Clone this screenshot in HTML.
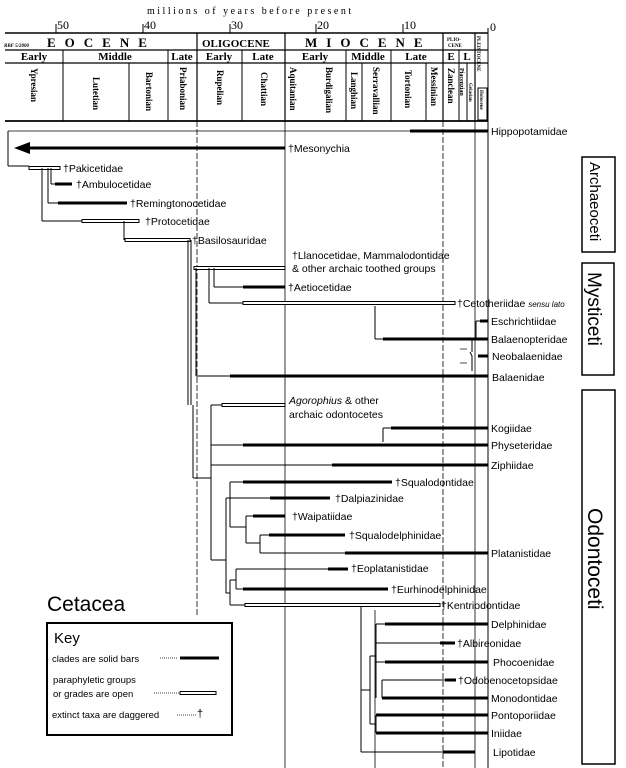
<!DOCTYPE html>
<html><head><meta charset="utf-8"><style>
html,body{margin:0;padding:0;background:#fff;}
svg{display:block;font-family:"Liberation Sans",Arial,sans-serif;}
.l{font-size:10.5px;fill:#000;}
.s{font-family:"Liberation Serif",serif;font-weight:bold;font-size:9px;}
</style></head><body>
<svg width="626" height="768" viewBox="0 0 626 768" xmlns="http://www.w3.org/2000/svg">
<g stroke="#000" fill="none">
<line x1="5" y1="33" x2="488" y2="33" stroke-width="1.5"/>
<line x1="5" y1="50" x2="488" y2="50" stroke-width="1.2"/>
<line x1="5" y1="63" x2="488" y2="63" stroke-width="1.2"/>
<line x1="5" y1="121" x2="488" y2="121" stroke-width="1.8"/>
<line x1="488" y1="28" x2="488" y2="768" stroke-width="1"/>
<line x1="56" y1="24" x2="56" y2="33"/><line x1="143" y1="24" x2="143" y2="33"/><line x1="230" y1="24" x2="230" y2="33"/><line x1="316" y1="24" x2="316" y2="33"/><line x1="403" y1="24" x2="403" y2="33"/>
<line x1="197" y1="33" x2="197" y2="121" stroke-width="1.2"/>
<line x1="285" y1="33" x2="285" y2="121" stroke-width="1.2"/>
<line x1="443" y1="33" x2="443" y2="121" stroke-width="1.2"/>
<line x1="475" y1="33" x2="475" y2="121" stroke-width="1.2"/>
<line x1="63" y1="50" x2="63" y2="121"/><line x1="168" y1="50" x2="168" y2="121"/><line x1="242" y1="50" x2="242" y2="121"/><line x1="346" y1="50" x2="346" y2="121"/><line x1="391" y1="50" x2="391" y2="121"/><line x1="459" y1="50" x2="459" y2="121"/>
<line x1="129" y1="63" x2="129" y2="121"/><line x1="362" y1="63" x2="362" y2="121"/><line x1="426" y1="63" x2="426" y2="121"/><line x1="467" y1="63" x2="467" y2="121"/>
<rect x="478" y="88" width="9" height="32"/>
<line x1="197" y1="121" x2="197" y2="615" stroke-dasharray="6 2" stroke-width="0.8"/>
<line x1="285" y1="121" x2="285" y2="768" stroke-width="0.8"/>
<line x1="443" y1="121" x2="443" y2="768" stroke-dasharray="6 2" stroke-width="0.8"/>
<line x1="475" y1="121" x2="475" y2="768" stroke-width="0.8"/>
<line x1="375" y1="610" x2="375" y2="768" stroke-width="0.8"/>

<line x1="8" y1="131" x2="410" y2="131" stroke-width="0.8"/>
<line x1="410" y1="131" x2="488" y2="131" stroke-width="3"/>
<line x1="8" y1="131" x2="8" y2="166" stroke-width="1"/>
<line x1="8" y1="166" x2="29" y2="166" stroke-width="1"/>
<line x1="30" y1="148" x2="285" y2="148" stroke-width="3"/>
<rect x="29" y="166.5" width="31" height="3" fill="#fff" stroke-width="1"/>
<line x1="51" y1="168" x2="51" y2="184"/><line x1="51" y1="184" x2="55" y2="184"/>
<line x1="55" y1="184" x2="72" y2="184" stroke-width="3"/>
<line x1="48" y1="168" x2="48" y2="203"/><line x1="48" y1="203" x2="58" y2="203"/>
<line x1="58" y1="203" x2="127" y2="203" stroke-width="3"/>
<line x1="42" y1="168" x2="42" y2="221"/><line x1="42" y1="221" x2="82" y2="221"/>
<rect x="82" y="219.5" width="57" height="3" fill="#fff"/>
<line x1="124" y1="221" x2="124" y2="240"/>
<rect x="125" y="238.5" width="65" height="3" fill="#fff"/>
<line x1="188" y1="240" x2="188" y2="405"/><line x1="191" y1="240" x2="191" y2="405"/>
<line x1="193" y1="405" x2="193" y2="478"/><line x1="193" y1="478" x2="211" y2="478"/>
<rect x="194" y="266.5" width="91" height="3" fill="#fff"/>
<line x1="196" y1="268" x2="196" y2="376"/><line x1="196" y1="376" x2="230" y2="376"/>
<line x1="230" y1="376" x2="488" y2="376" stroke-width="3"/>
<line x1="214" y1="268" x2="214" y2="287"/><line x1="214" y1="287" x2="243" y2="287"/>
<line x1="243" y1="287" x2="285" y2="287" stroke-width="3"/>
<line x1="209" y1="268" x2="209" y2="303"/><line x1="209" y1="303" x2="243" y2="303"/>
<rect x="243" y="301.5" width="212" height="3" fill="#fff"/>
<line x1="375" y1="306" x2="375" y2="339"/><line x1="375" y1="339" x2="383" y2="339"/>
<line x1="383" y1="339" x2="488" y2="339" stroke-width="3"/>
<line x1="476" y1="321" x2="476" y2="339"/><line x1="476" y1="321" x2="480" y2="321"/>
<line x1="480" y1="321" x2="488" y2="321" stroke-width="3"/>
<line x1="472" y1="339" x2="472" y2="352"/><line x1="470" y1="352" x2="472" y2="356"/><line x1="472" y1="356" x2="472" y2="371"/>
<line x1="478" y1="356" x2="488" y2="356" stroke-width="3"/>
<line x1="460" y1="349" x2="467" y2="349" stroke-width="0.7"/><line x1="460" y1="363" x2="467" y2="363" stroke-width="0.7"/>
<line x1="211" y1="405" x2="211" y2="560"/><line x1="211" y1="405" x2="222" y2="405"/>
<rect x="222" y="403.5" width="63" height="3" fill="#fff"/>
<line x1="211" y1="445" x2="243" y2="445"/><line x1="243" y1="445" x2="488" y2="445" stroke-width="3"/>
<line x1="211" y1="465" x2="332" y2="465"/><line x1="332" y1="465" x2="488" y2="465" stroke-width="3"/>
<line x1="383" y1="428" x2="383" y2="442"/><line x1="383" y1="428" x2="391" y2="428"/>
<line x1="391" y1="428" x2="488" y2="428" stroke-width="3"/>
<line x1="211" y1="560" x2="226" y2="560"/>
<line x1="226" y1="498" x2="226" y2="593"/>
<line x1="226" y1="498" x2="230" y2="498"/>
<line x1="230" y1="482" x2="230" y2="527"/>
<line x1="230" y1="482" x2="243" y2="482"/><line x1="243" y1="482" x2="392" y2="482" stroke-width="3"/>
<line x1="230" y1="498" x2="270" y2="498"/><line x1="270" y1="498" x2="330" y2="498" stroke-width="3"/>
<line x1="230" y1="527" x2="246" y2="527"/>
<line x1="246" y1="516" x2="246" y2="543"/><line x1="246" y1="516" x2="253" y2="516"/>
<line x1="253" y1="516" x2="285" y2="516" stroke-width="3"/>
<line x1="246" y1="543" x2="260" y2="543"/>
<line x1="260" y1="535" x2="260" y2="553"/><line x1="260" y1="535" x2="269" y2="535"/>
<line x1="269" y1="535" x2="345" y2="535" stroke-width="3"/>
<line x1="260" y1="553" x2="345" y2="553"/><line x1="345" y1="553" x2="488" y2="553" stroke-width="3"/>
<line x1="226" y1="593" x2="230" y2="593"/>
<line x1="230" y1="580" x2="230" y2="605"/><line x1="230" y1="580" x2="236" y2="580"/>
<line x1="236" y1="569" x2="236" y2="589"/><line x1="236" y1="569" x2="328" y2="569"/>
<line x1="328" y1="569" x2="348" y2="569" stroke-width="3"/>
<line x1="236" y1="589" x2="243" y2="589"/><line x1="243" y1="589" x2="388" y2="589" stroke-width="3"/>
<line x1="230" y1="605" x2="245" y2="605"/>
<rect x="245" y="603.5" width="195" height="3" fill="#fff"/>
<line x1="361" y1="607" x2="361" y2="752"/><line x1="361" y1="752" x2="443" y2="752"/>
<line x1="443" y1="752" x2="475" y2="752" stroke-width="3"/>
<line x1="361" y1="690" x2="370" y2="690"/>
<line x1="370" y1="656" x2="370" y2="724"/>
<line x1="370" y1="656" x2="376" y2="656"/>
<line x1="376" y1="624" x2="376" y2="662"/>
<line x1="376" y1="624" x2="385" y2="624"/><line x1="385" y1="624" x2="488" y2="624" stroke-width="3"/>
<line x1="376" y1="643" x2="440" y2="643"/><line x1="440" y1="643" x2="455" y2="643" stroke-width="3"/>
<line x1="376" y1="662" x2="385" y2="662"/><line x1="385" y1="662" x2="488" y2="662" stroke-width="3"/>
<line x1="376" y1="660" x2="376" y2="698"/>
<line x1="382" y1="680" x2="382" y2="698"/><line x1="382" y1="680" x2="445" y2="680"/>
<line x1="445" y1="680" x2="456" y2="680" stroke-width="3"/>
<line x1="382" y1="698" x2="488" y2="698" stroke-width="3"/>
<line x1="370" y1="724" x2="376" y2="724"/>
<line x1="376" y1="715" x2="376" y2="733"/>
<line x1="376" y1="715" x2="488" y2="715" stroke-width="3"/>
<line x1="376" y1="733" x2="488" y2="733" stroke-width="3"/>
<rect x="582" y="157" width="33" height="95" stroke-width="1.5"/>
<rect x="582" y="263" width="32" height="112" stroke-width="1.5"/>
<rect x="582" y="390" width="33" height="374" stroke-width="1.5"/>
<rect x="47" y="623" width="185" height="112" stroke-width="2"/>
<line x1="160" y1="658" x2="178" y2="658" stroke-dasharray="1 1" stroke-width="0.7"/>
<line x1="180" y1="658" x2="219" y2="658" stroke-width="3"/>
<line x1="154" y1="693" x2="179" y2="693" stroke-dasharray="1 1" stroke-width="0.7"/>
<rect x="180" y="691.5" width="36" height="3" fill="#fff"/>
<line x1="177" y1="715" x2="196" y2="715" stroke-dasharray="1 1" stroke-width="0.7"/>
</g>
<polygon points="14,148 30,142 30,154" fill="#000"/>
<text x="147" y="14" style="font-family:'Liberation Serif',serif;font-size:10px;letter-spacing:2.5px">millions of years before present</text>
<g style="font-family:'Liberation Serif',serif;font-size:12px">
<text x="57" y="29">50</text><text x="144" y="29">40</text><text x="231" y="29">30</text><text x="317" y="29">20</text><text x="404" y="29">10</text><text x="490" y="31">0</text>
</g>
<text x="4" y="47" style="font-family:'Liberation Serif',serif;font-size:5px;font-style:italic;font-weight:bold">RBF 5/2000</text>
<text x="47" y="47" style="font-family:'Liberation Serif',serif;font-size:13px;font-weight:bold;letter-spacing:9px">EOCENE</text>
<text x="202" y="47" style="font-family:'Liberation Serif',serif;font-size:11px;font-weight:bold">OLIGOCENE</text>
<text x="305" y="47" style="font-family:'Liberation Serif',serif;font-size:13px;font-weight:bold;letter-spacing:9px">MIOCENE</text>
<text x="447" y="41" style="font-family:'Liberation Serif',serif;font-size:5px;font-weight:bold">PLIO-</text><text x="448" y="47" style="font-family:'Liberation Serif',serif;font-size:5px;font-weight:bold">CENE</text>
<g style="font-family:'Liberation Serif',serif;font-size:11px;font-weight:bold" text-anchor="middle">
<text x="34" y="60">Early</text><text x="115" y="60">Middle</text><text x="182" y="60">Late</text><text x="219" y="60">Early</text><text x="263" y="60">Late</text><text x="315" y="60">Early</text><text x="368" y="60">Middle</text><text x="416" y="60">Late</text><text x="451" y="60">E</text><text x="467" y="60">L</text>
</g>
<g class="s">
<text transform="translate(31,68) rotate(90)">Ypresian</text>
<text transform="translate(93,77) rotate(90)">Lutetian</text>
<text transform="translate(146,72) rotate(90)">Bartonian</text>
<text transform="translate(180,67) rotate(90)">Priabonian</text>
<text transform="translate(217,70) rotate(90)">Rupelian</text>
<text transform="translate(261,72) rotate(90)">Chattian</text>
<text transform="translate(290,67) rotate(90)">Aquitanian</text>
<text transform="translate(326,67) rotate(90)">Burdigalian</text>
<text transform="translate(351,72) rotate(90)">Langhian</text>
<text transform="translate(373,67) rotate(90)">Serravallian</text>
<text transform="translate(405,70) rotate(90)">Tortonian</text>
<text transform="translate(431,67) rotate(90)">Messinian</text>
<text transform="translate(448,68) rotate(90)">Zanclean</text>
<text transform="translate(460,68) rotate(90)" style="font-size:6px">Piacenzian</text>
<text transform="translate(469,83) rotate(90)" style="font-size:5px">Gelasian</text>
<text transform="translate(477,36) rotate(90)" style="font-size:5px">PLEISTOCENE</text>
<text transform="translate(480,90) rotate(90)" style="font-size:5px">Holocene</text>
</g>
<g class="l">
<text x="491" y="135">Hippopotamidae</text>
<text x="288" y="152">†Mesonychia</text>
<text x="63" y="172">†Pakicetidae</text>
<text x="76" y="188">†Ambulocetidae</text>
<text x="130" y="207">†Remingtonocetidae</text>
<text x="145" y="225">†Protocetidae</text>
<text x="192" y="244">†Basilosauridae</text>
<text x="292" y="259">†Llanocetidae, Mammalodontidae</text>
<text x="292" y="272">&amp; other archaic toothed groups</text>
<text x="288" y="291">†Aetiocetidae</text>
<text x="457" y="307">†Cetotheriidae <tspan font-style="italic" font-size="8">sensu lato</tspan></text>
<text x="491" y="325">Eschrichtiidae</text>
<text x="491" y="343">Balaenopteridae</text>
<text x="492" y="360">Neobalaenidae</text>
<text x="492" y="381">Balaenidae</text>
<text x="289" y="404"><tspan font-style="italic">Agorophius</tspan> &amp; other</text>
<text x="289" y="418">archaic odontocetes</text>
<text x="491" y="432">Kogiidae</text>
<text x="491" y="449">Physeteridae</text>
<text x="491" y="469">Ziphiidae</text>
<text x="395" y="486">†Squalodontidae</text>
<text x="335" y="502">†Dalpiazinidae</text>
<text x="292" y="520">†Waipatiidae</text>
<text x="349" y="539">†Squalodelphinidae</text>
<text x="491" y="557">Platanistidae</text>
<text x="351" y="572">†Eoplatanistidae</text>
<text x="391" y="593">†Eurhinodelphinidae</text>
<text x="441" y="609">†Kentriodontidae</text>
<text x="491" y="628">Delphinidae</text>
<text x="457" y="647">†Albireonidae</text>
<text x="493" y="666">Phocoenidae</text>
<text x="458" y="684">†Odobenocetopsidae</text>
<text x="491" y="702">Monodontidae</text>
<text x="491" y="719">Pontoporiidae</text>
<text x="491" y="737">Iniidae</text>
<text x="493" y="756">Lipotidae</text>
</g>
<text transform="translate(590,162) rotate(90)" style="font-size:15px">Archaeoceti</text>
<text transform="translate(588,272) rotate(90)" style="font-size:19px">Mysticeti</text>
<text transform="translate(588,508) rotate(90)" style="font-size:21px">Odontoceti</text>
<text x="47" y="611" style="font-size:21px">Cetacea</text>
<text x="54" y="643" style="font-size:15px">Key</text>
<g style="font-size:9.5px">
<text x="52" y="662">clades are solid bars</text>
<text x="53" y="683">paraphyletic groups</text>
<text x="53" y="697">or grades are open</text>
<text x="52" y="718">extinct taxa are daggered</text>
<text x="197" y="717" style="font-size:11px">†</text>
</g>
</svg>
</body></html>
